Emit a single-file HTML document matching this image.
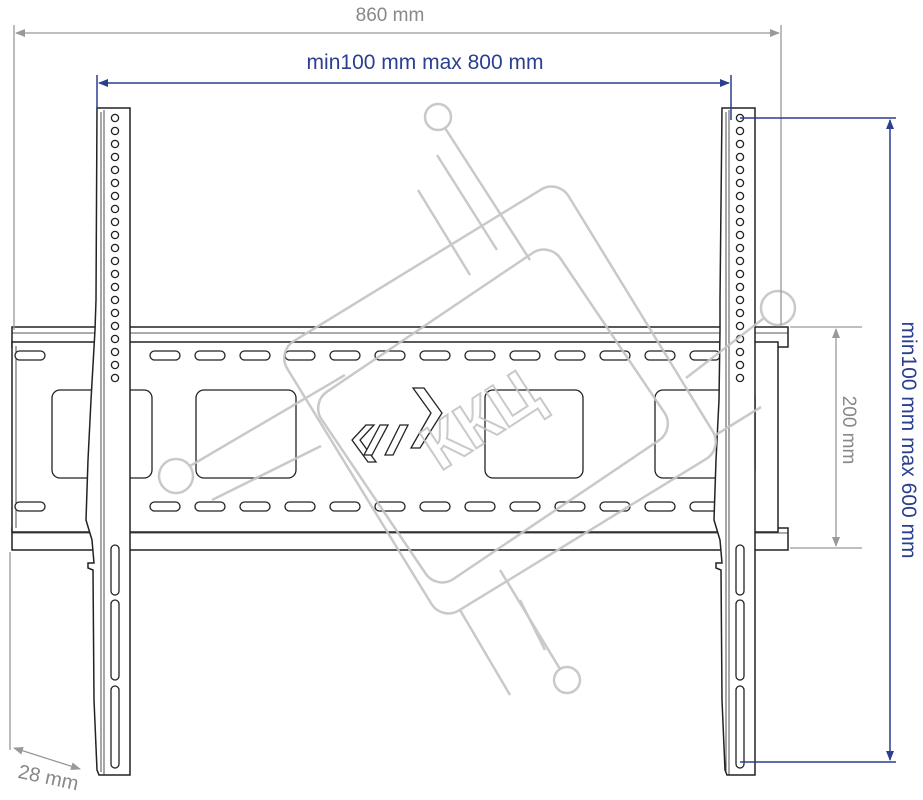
<!DOCTYPE html>
<html><head><meta charset="utf-8"><style>
html,body{margin:0;padding:0;background:#fff;width:923px;height:800px;overflow:hidden}
text{font-family:"Liberation Sans","DejaVu Sans",sans-serif}
</style></head><body>
<svg width="923" height="800" viewBox="0 0 923 800" xmlns="http://www.w3.org/2000/svg">
<defs>
<marker id="ag" markerWidth="10" markerHeight="8" refX="9" refY="4" orient="auto-start-reverse" markerUnits="userSpaceOnUse"><path d="M0,0 L10,4 L0,8 Z" fill="#999"/></marker>
<marker id="ab" markerWidth="10" markerHeight="8" refX="9" refY="4" orient="auto-start-reverse" markerUnits="userSpaceOnUse"><path d="M0,0 L10,4 L0,8 Z" fill="#2a3f8f"/></marker>
</defs>

<!-- top/bottom rails -->
<g fill="#fff" stroke="#222" stroke-width="1.5">
<rect x="12" y="327" width="776" height="20"/>
<line x1="12" y1="333" x2="788" y2="333" stroke-width="0.8"/>
<rect x="12" y="528" width="776" height="22"/>
<line x1="12" y1="533" x2="788" y2="533" stroke-width="0.8"/>
<rect x="12" y="342" width="766" height="190"/>
<line x1="16" y1="346" x2="16" y2="528" stroke-width="0.8"/>
</g>
<!-- slots -->
<g fill="#fff" stroke="#222" stroke-width="1.3">
<rect x="15" y="351" width="30" height="9" rx="4.5"/><rect x="15" y="502" width="30" height="9" rx="4.5"/>
<rect x="97" y="348" width="9" height="18" rx="4.5" transform="rotate(10 101 357)"/>
<rect x="97" y="497" width="9" height="18" rx="4.5" transform="rotate(10 101 506)"/>
<rect x="738" y="348" width="9" height="18" rx="4.5"/><rect x="738" y="497" width="9" height="18" rx="4.5"/>
<g id="sl">
<rect x="150" y="351" width="30" height="9" rx="4.5"/><rect x="195" y="351" width="30" height="9" rx="4.5"/>
<rect x="240" y="351" width="30" height="9" rx="4.5"/><rect x="285" y="351" width="30" height="9" rx="4.5"/>
<rect x="330" y="351" width="30" height="9" rx="4.5"/><rect x="375" y="351" width="30" height="9" rx="4.5"/>
<rect x="420" y="351" width="30" height="9" rx="4.5"/><rect x="465" y="351" width="30" height="9" rx="4.5"/>
<rect x="510" y="351" width="30" height="9" rx="4.5"/><rect x="555" y="351" width="30" height="9" rx="4.5"/>
<rect x="600" y="351" width="30" height="9" rx="4.5"/><rect x="645" y="351" width="30" height="9" rx="4.5"/>
<rect x="690" y="351" width="30" height="9" rx="4.5"/>
</g>
<use href="#sl" y="151"/>
<rect x="52" y="390" width="100" height="88" rx="8"/>
<rect x="196" y="390" width="100" height="88" rx="8"/>
<rect x="485" y="390" width="98" height="88" rx="8"/>
<rect x="655" y="390" width="100" height="88" rx="8"/>
<path d="M366,425 L352,440 L368,462 L376,462 L360,440 L374,425 Z"/>
<path d="M380,425 L364,455 L372,455 L388,425 Z"/>
<path d="M400,425 L385,455 L393,455 L408,425 Z"/>
<path d="M413,388 L424,388 L442,413 L420,448 L411,448 L431,413 Z"/>
</g>

<!-- left strip -->
<g fill="#fff" stroke="#222" stroke-width="1.5">
<path d="M97,108 L130,108 L130,775 L99,775 L97,770 L94,700 L93,570 L88,568 L88,563 L94,563 L92,540 L86,520 L88,460 L91,400 L95,330 L96,300 Z"/>
<line x1="101" y1="112" x2="101" y2="772" stroke-width="0.8"/>
<line x1="104" y1="110" x2="104" y2="775" stroke-width="0.8"/>
</g>
<!-- right strip -->
<g fill="#fff" stroke="#222" stroke-width="1.5">
<path d="M722,108 L755,108 L755,775 L727,775 L725,770 L722,700 L721,570 L716,568 L716,563 L722,563 L720,540 L714,520 L716,460 L719,400 L720,330 L720,300 Z"/>
<line x1="726" y1="112" x2="726" y2="772" stroke-width="0.8"/>
<line x1="729" y1="110" x2="729" y2="775" stroke-width="0.8"/>
</g>
<g fill="none" stroke="#222" stroke-width="1.3" id="holes">
<circle cx="115" cy="118" r="3.6"/><circle cx="115" cy="131" r="3.6"/><circle cx="115" cy="144" r="3.6"/><circle cx="115" cy="157" r="3.6"/><circle cx="115" cy="170" r="3.6"/><circle cx="115" cy="183" r="3.6"/><circle cx="115" cy="196" r="3.6"/><circle cx="115" cy="209" r="3.6"/><circle cx="115" cy="222" r="3.6"/><circle cx="115" cy="235" r="3.6"/><circle cx="115" cy="248" r="3.6"/><circle cx="115" cy="261" r="3.6"/><circle cx="115" cy="274" r="3.6"/><circle cx="115" cy="287" r="3.6"/><circle cx="115" cy="300" r="3.6"/><circle cx="115" cy="313" r="3.6"/><circle cx="115" cy="326" r="3.6"/><circle cx="115" cy="339" r="3.6"/><circle cx="115" cy="352" r="3.6"/><circle cx="115" cy="365" r="3.6"/><circle cx="115" cy="378" r="3.6"/>
<rect x="111" y="545" width="8" height="50" rx="4"/><rect x="111" y="600" width="8" height="80" rx="4"/><rect x="111" y="686" width="8" height="82" rx="4"/>
</g>
<use href="#holes" x="625"/>

<!-- watermark (on top) -->
<g fill="none" stroke="#c4c4c4" stroke-width="2.5" opacity="0.9">
<rect x="-165" y="-158" width="330" height="316" rx="20" transform="translate(500,400) rotate(-31.5)"/>
<rect x="-144" y="-113" width="288" height="226" rx="20" transform="translate(493,416) rotate(-34)"/>
<circle cx="438" cy="117" r="13"/><line x1="445" y1="128" x2="530" y2="260"/>
<line x1="437" y1="155" x2="497" y2="250"/><line x1="418" y1="190" x2="470" y2="275"/>
<circle cx="567" cy="680" r="13"/><line x1="560" y1="669" x2="500" y2="570"/>
<line x1="520" y1="600" x2="545" y2="650"/><line x1="460" y1="610" x2="510" y2="695"/>
<circle cx="176" cy="476" r="17"/><line x1="190" y1="466" x2="345" y2="375"/>
<line x1="212" y1="500" x2="321" y2="446"/>
<circle cx="778" cy="308" r="17"/><line x1="764" y1="318" x2="686" y2="378"/>
<line x1="761" y1="407" x2="714" y2="436"/>
<text x="0" y="0" font-size="64" font-weight="bold" fill="none" stroke="#c4c4c4" stroke-width="2" transform="translate(440,472) rotate(-33)">ККЦ</text>
</g>

<!-- gray dims -->
<g stroke="#999" stroke-width="1.3" fill="none">
<line x1="14" y1="25" x2="14" y2="330"/><line x1="781" y1="25" x2="781" y2="325"/>
<line x1="16" y1="33" x2="779" y2="33" marker-start="url(#ag)" marker-end="url(#ag)"/>
<line x1="10" y1="552" x2="10" y2="750"/>
<line x1="790" y1="327" x2="862" y2="327"/><line x1="790" y1="548" x2="862" y2="548"/>
<line x1="836" y1="329" x2="836" y2="546" marker-start="url(#ag)" marker-end="url(#ag)"/>
<line x1="14" y1="748" x2="80" y2="769" marker-start="url(#ag)" marker-end="url(#ag)"/>
</g>
<text x="390" y="21" font-size="19" fill="#888" text-anchor="middle">860 mm</text>
<text x="0" y="0" font-size="19" fill="#888" text-anchor="middle" transform="translate(843,430) rotate(90)">200 mm</text>
<text x="0" y="0" font-size="20" fill="#888" text-anchor="middle" transform="translate(47,784) rotate(12)">28 mm</text>

<!-- blue dims -->
<g stroke="#2a3f8f" stroke-width="1.5" fill="none">
<line x1="97" y1="75" x2="97" y2="110"/><line x1="731" y1="75" x2="731" y2="120"/>
<line x1="99" y1="83" x2="729" y2="83" marker-start="url(#ab)" marker-end="url(#ab)"/>
<line x1="740" y1="118" x2="896" y2="118"/><line x1="740" y1="762" x2="896" y2="762"/>
<line x1="890" y1="120" x2="890" y2="760" marker-start="url(#ab)" marker-end="url(#ab)"/>
</g>
<text x="425" y="69" font-size="21" fill="#2a3f8f" text-anchor="middle">min100 mm max 800 mm</text>
<text x="0" y="0" font-size="21" fill="#2a3f8f" text-anchor="middle" transform="translate(902,440) rotate(90)">min100 mm max 600 mm</text>
</svg>
</body></html>
